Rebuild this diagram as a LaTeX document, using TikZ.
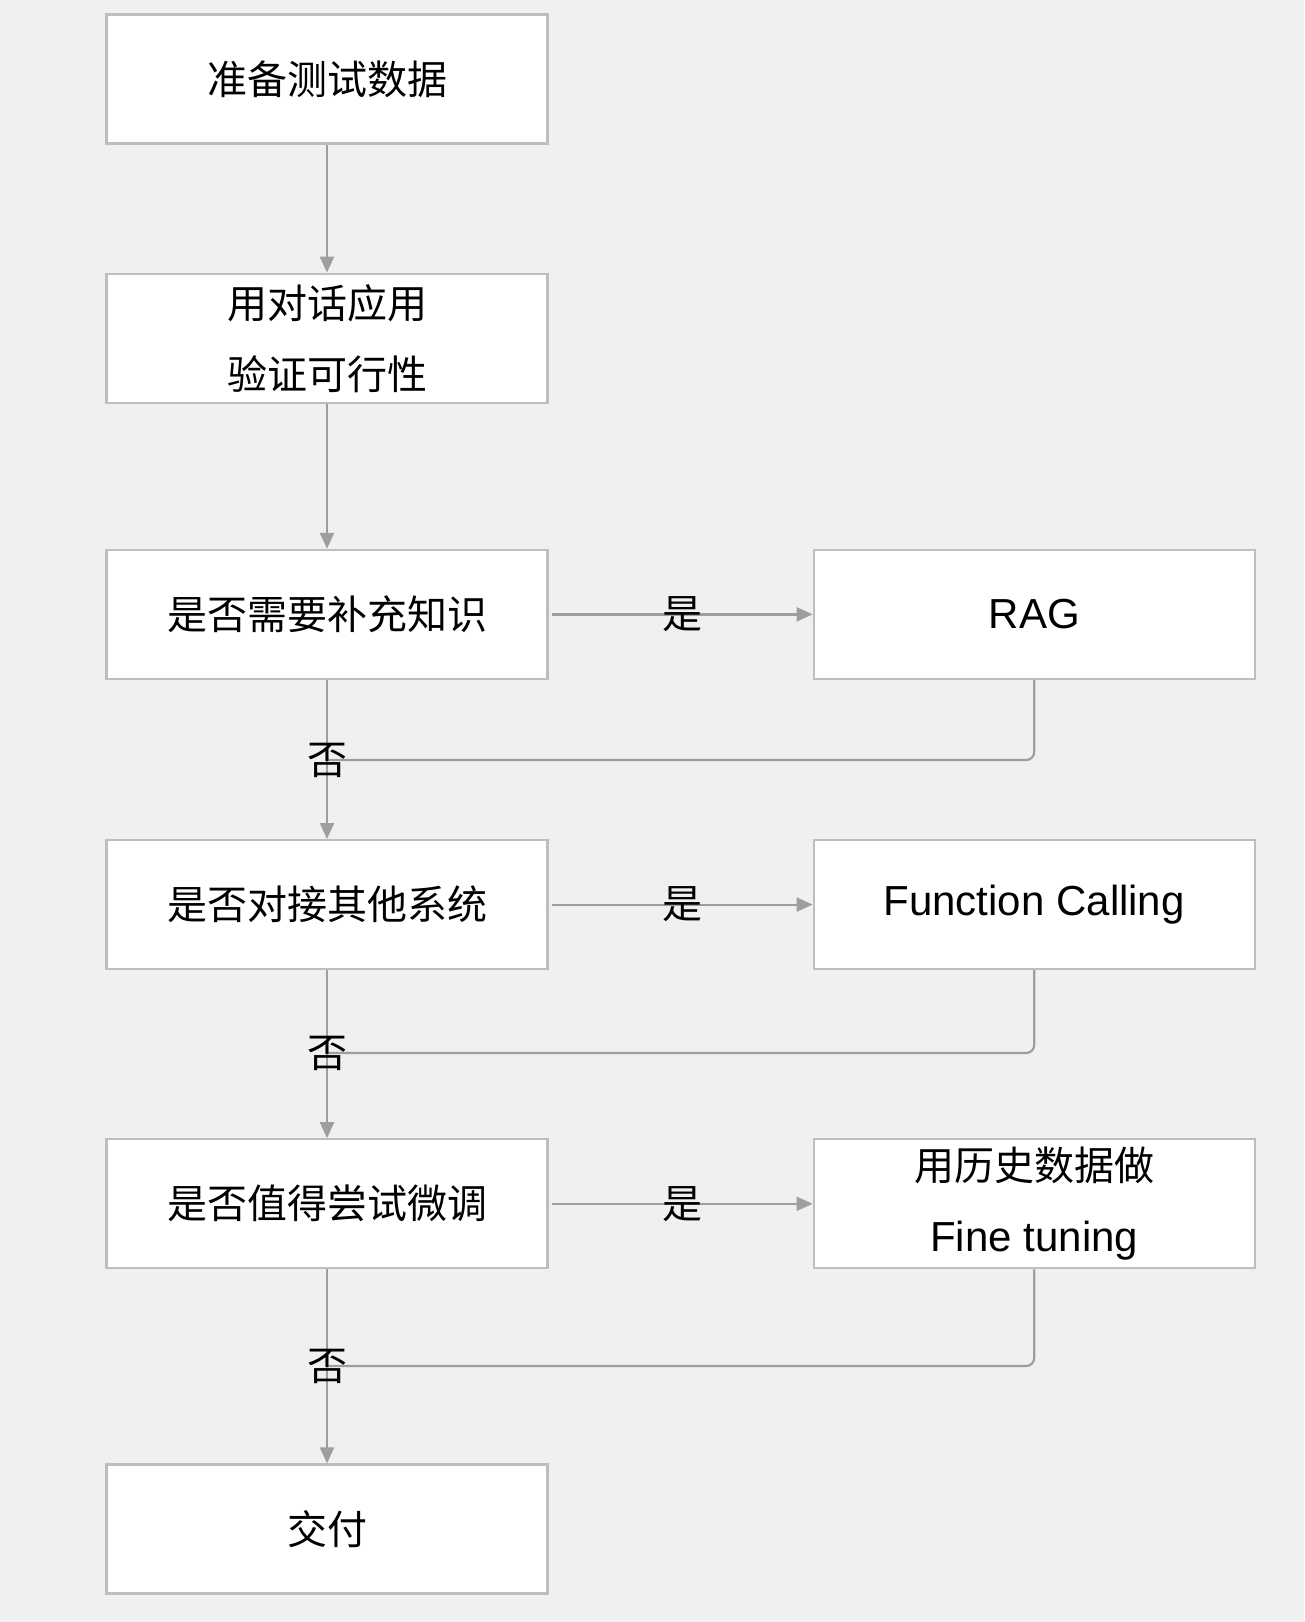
\documentclass[tikz,border=0pt]{standalone}
\usepackage{fontspec}
\usepackage{tikz}
\usetikzlibrary{positioning}
\usetikzlibrary{arrows.meta}
\newfontfamily\zhfont{Noto Sans CJK SC}
\newfontfamily\latinfont{Liberation Sans}
\definecolor{bgcol}{RGB}{239,240,242}
\definecolor{framecol}{RGB}{190,190,190}
\definecolor{linecol}{RGB}{158,158,158}
\newcommand{\lat}[1]{{\latinfont\fontsize{42}{71}\selectfont #1}}

\begin{document}
\begin{tikzpicture}[x=1pt, y=-1pt, align=center, node distance=264pt,
  box/.style={draw=framecol, line width=2.2pt, fill=white, minimum width=441pt,
    minimum height=129pt, inner sep=0pt,
    font=\zhfont\fontsize{40}{71}\selectfont},
  flow/.style={draw=linecol, line width=2.2pt, -{Triangle[length=16pt,width=14pt]}},
  tag/.style={font=\zhfont\fontsize{40}{48}\selectfont, inner sep=0pt}]
  \fill[bgcol] (0,0) rectangle (1304,1622);
  \useasboundingbox (0,0) rectangle (1304,1622);
  \node[box] (prep) at (327,79) {准备测试数据};
  \node[box, below=128pt of prep] (chat) {用对话应用\\验证可行性};
  \node[box, below=145pt of chat] (know) {是否需要补充知识};
  \node[box, below=159pt of know] (sys) {是否对接其他系统};
  \node[box, below=168pt of sys] (tune) {是否值得尝试微调};
  \node[box, below=194pt of tune] (deliver) {交付};
  \node[box, right=264pt of know] (rag) {\lat{RAG}};
  \node[box, right=264pt of sys] (func) {\lat{Function Calling}};
  \node[box, right=264pt of tune] (hist) {用历史数据做\\\lat{Fine tuning}};
  % joins
  \coordinate (j1) at (327,760);
  \coordinate (j2) at (327,1053);
  \coordinate (j3) at (327,1366);
  \draw[flow] (prep) -- (chat);
  \draw[flow] (chat) -- (know);
  \draw[flow] (know) -- (sys);
  \draw[flow] (sys) -- (tune);
  \draw[flow] (tune) -- (deliver);
  \draw[flow] ([xshift=3pt]know.east) -- node[tag] {是} (rag);
  \draw[flow] ([xshift=3pt]sys.east) -- node[tag] {是} (func);
  \draw[flow] ([xshift=3pt]tune.east) -- node[tag] {是} (hist);
  \draw[draw=linecol, line width=2.2pt, rounded corners=8pt] (rag.south) |- (j1);
  \draw[draw=linecol, line width=2.2pt, rounded corners=8pt] (func.south) |- (j2);
  \draw[draw=linecol, line width=2.2pt, rounded corners=8pt] (hist.south) |- (j3);
  \node[tag] (no1) at (j1) {否};
  \node[tag] (no2) at (j2) {否};
  \node[tag] (no3) at (j3) {否};
\end{tikzpicture}
\end{document}
